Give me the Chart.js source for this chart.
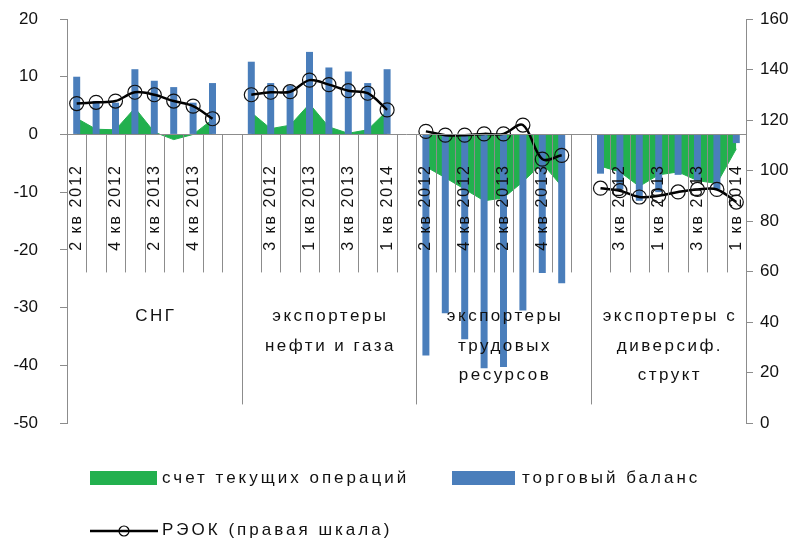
<!DOCTYPE html>
<html>
<head>
<meta charset="utf-8">
<script src="https://cdn.jsdelivr.net/npm/chart.js@4.4.1/dist/chart.umd.min.js"></script>
<style>
  body { margin: 0; background: #fff; }
  #wrap { width: 810px; height: 543px; position: relative; }
</style>
</head>
<body>
<div id="wrap"><canvas id="canvas"></canvas></div>
<script>
const FONT = "'Liberation Sans', Arial, sans-serif"

// кварталы внутри каждой группы
const quarters = ['2 кв 2012', '3 кв 2012', '4 кв 2012', '1 кв 2013', '2 кв 2013', '3 кв 2013', '4 кв 2013', '1 кв 2014']

// группы стран (подписи второго уровня)
const groupNames = [
  ['СНГ'],
  ['экспортеры', 'нефти и газа'],
  ['экспортеры', 'трудовых', 'ресурсов'],
  ['экспортеры с', 'диверсиф.', 'структ']
]

// торговый баланс, % (левая шкала)
const tradeBalance = [
  [10, 5.8, 5.5, 11.3, 9.3, 8.2, 5.5, 8.9],
  [12.6, 8.9, 8.5, 14.3, 11.6, 10.9, 8.9, 11.3],
  [-38.3, -31, -35.5, -40.5, -40.3, -30.5, -24, -25.8],
  [-6.8, -9.5, -11.5, -10, -7, -8, -9.5, -1.5]
]

// счет текущих операций, % (левая шкала)
const currentAccount = [
  [2.8, 0.9, 0.8, 4.6, 0.4, -0.9, 0, 2.6],
  [3.8, 1.0, 1.6, 5.3, 1.3, 0.2, 0.8, 4.1],
  [-5.6, -7.5, -9.5, -11.5, -11, -8.2, -5, -9],
  [-5.5, -6.5, -9, -7, -6.5, -8, -8.5, -2.5]
]

// РЭОК (правая шкала)
const reer = [
  [126.5, 127, 127.5, 131, 130, 127.5, 125.5, 120.5],
  [130, 131, 131.2, 135.8, 134, 131.6, 130.6, 124],
  [115.5, 114, 114, 114.5, 114.5, 118, 104.5, 106],
  [93, 92, 89.5, 90, 91.5, 92.5, 92.5, 87.5]
]

// ------------------------------------------------------------
// склеиваем группы в одну категорийную ось, пустой слот между группами
const labels = []
const groupStart = []
const flat = (arr) => {
  const out = []
  arr.forEach((g, i) => {
    out.push(...g)
    if (i < arr.length - 1) out.push(null)
  })
  return out
}
groupNames.forEach((g, i) => {
  groupStart.push(labels.length)
  labels.push(...quarters)
  if (i < groupNames.length - 1) labels.push('')
})

const dataTrade = flat(tradeBalance)
const dataCurrent = flat(currentAccount)
const dataReer = flat(reer)

const GREEN = '#22b04e'
const BLUE = '#4a7ebb'
const GRID = '#8c8c8c'

// двухуровневая ось категорий рисуется поверх рядов
const categoryAxis = {
  id: 'categoryAxis',
  afterDatasetsDraw(chart) {
    const ctx = chart.ctx
    const xs = chart.scales.x
    const y0 = chart.scales.y.getPixelForValue(0)
    const area = chart.chartArea
    const half = (xs.getPixelForValue(1) - xs.getPixelForValue(0)) / 2
    ctx.save()
    ctx.strokeStyle = GRID
    ctx.lineWidth = 1
    ctx.beginPath()
    ctx.moveTo(area.left, Math.round(y0) + 0.5)
    ctx.lineTo(area.right, Math.round(y0) + 0.5)
    for (let i = 1; i < labels.length; i++) {
      const x = Math.round(xs.getPixelForValue(i) - half) + 0.5
      const isGroup = groupStart.includes(i)
      ctx.moveTo(x, y0)
      ctx.lineTo(x, y0 + (isGroup ? 270 : 138))
    }
    ctx.stroke()

    ctx.fillStyle = '#111'
    ctx.font = '16px ' + FONT
    ctx.letterSpacing = '2px'
    ctx.textAlign = 'center'
    ctx.textBaseline = 'middle'
    labels.forEach((lab, i) => {
      if (i % 2 !== 0 || !lab) return
      ctx.save()
      ctx.translate(xs.getPixelForValue(i), y0 + 73)
      ctx.rotate(-Math.PI / 2)
      ctx.fillText(lab, 0, 0)
      ctx.restore()
    })

    ctx.font = '17px ' + FONT
    ctx.letterSpacing = '2.5px'
    groupNames.forEach((lines, g) => {
      const first = groupStart[g]
      const last = g < groupNames.length - 1 ? groupStart[g + 1] - 1 : labels.length - 1
      const cx = (xs.getPixelForValue(first) + xs.getPixelForValue(last)) / 2 + 1.5
      lines.forEach((t, k) => {
        ctx.fillText(t, cx, y0 + 182 + k * 29.5)
      })
    })
    ctx.restore()
  }
}

// легенда в две строки, как в исходнике
const legendBlock = {
  id: 'legendBlock',
  afterDraw(chart) {
    const ctx = chart.ctx
    ctx.save()
    ctx.font = '17px ' + FONT
    ctx.letterSpacing = '3px'
    ctx.textBaseline = 'middle'
    ctx.textAlign = 'left'
    ctx.fillStyle = GREEN
    ctx.fillRect(90, 471, 67, 14)
    ctx.fillStyle = BLUE
    ctx.fillRect(452, 471, 63, 14)
    ctx.fillStyle = '#111'
    ctx.fillText(chart.data.datasets[2].label, 162, 478)
    ctx.fillText(chart.data.datasets[1].label, 522, 478)

    ctx.strokeStyle = '#000'
    ctx.lineWidth = 2.5
    ctx.beginPath()
    ctx.moveTo(90, 531)
    ctx.lineTo(158, 531)
    ctx.stroke()
    ctx.lineWidth = 1.2
    ctx.beginPath()
    ctx.arc(124, 531, 5, 0, Math.PI * 2)
    ctx.stroke()
    ctx.fillText(chart.data.datasets[0].label, 162, 530)
    ctx.restore()
  }
}

// подписи оси не должны сдвигать область построения
const fixPadding = (s) => {
  s.paddingTop = 10
  s.paddingBottom = 10
}

const ctxCanvas = document.getElementById('canvas')
const chart = new Chart(ctxCanvas, {
  type: 'bar',
  data: {
    labels: labels,
    datasets: [
      {
        type: 'line',
        label: 'РЭОК (правая шкала)',
        data: dataReer,
        yAxisID: 'y1',
        borderColor: '#000',
        borderWidth: 2.5,
        tension: 0.35,
        pointRadius: 7,
        pointBorderWidth: 1.2,
        pointBorderColor: '#111',
        pointBackgroundColor: 'rgba(0,0,0,0)',
        spanGaps: false,
        order: 0
      },
      {
        type: 'bar',
        label: 'торговый баланс',
        data: dataTrade,
        yAxisID: 'y',
        backgroundColor: BLUE,
        categoryPercentage: 1,
        barPercentage: 0.36,
        order: 1
      },
      {
        type: 'line',
        label: 'счет текущих операций',
        data: dataCurrent,
        yAxisID: 'y',
        borderColor: GREEN,
        borderWidth: 1,
        backgroundColor: GREEN,
        fill: 'origin',
        tension: 0,
        pointRadius: 0,
        spanGaps: false,
        order: 2
      }
    ]
  },
  options: {
    responsive: true,
    maintainAspectRatio: false,
    animation: false,
    devicePixelRatio: 1,
    layout: { padding: { top: 19, bottom: 120, left: 0, right: 0 } },
    plugins: {
      legend: { display: false },
      tooltip: { enabled: false }
    },
    scales: {
      x: {
        type: 'category',
        offset: true,
        display: false
      },
      y: {
        position: 'left',
        min: -50,
        max: 20,
        ticks: { stepSize: 10, padding: 22, color: '#111', font: { size: 17, family: FONT } },
        grid: { drawOnChartArea: false, tickLength: 7, color: GRID },
        border: { color: GRID },
        afterFit: (s) => { s.width = 67; fixPadding(s) }
      },
      y1: {
        position: 'right',
        min: 0,
        max: 160,
        ticks: { stepSize: 20, padding: 7, color: '#111', font: { size: 17, family: FONT } },
        grid: { drawOnChartArea: false, tickLength: 7, color: GRID },
        border: { color: GRID },
        afterFit: (s) => { s.width = 64; fixPadding(s) }
      }
    }
  },
  plugins: [categoryAxis, legendBlock]
})
</script>
</body>
</html>
